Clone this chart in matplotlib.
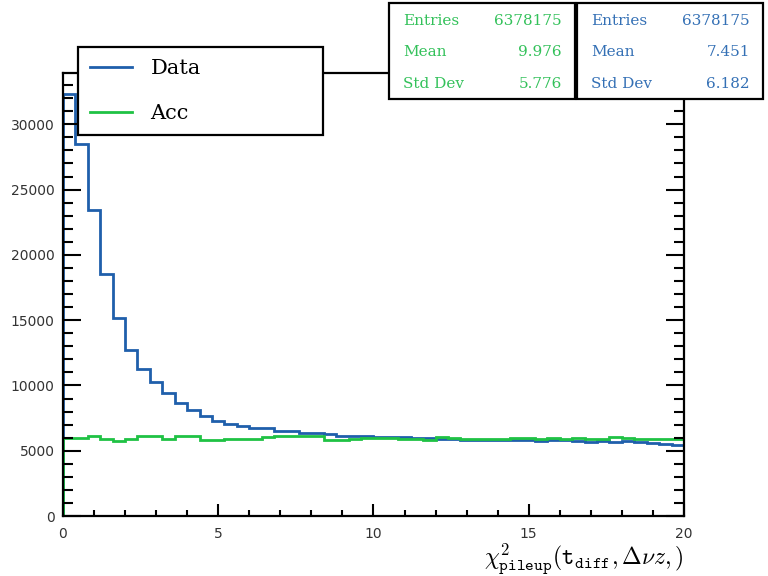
import numpy as np
import matplotlib
matplotlib.use('Agg')
from matplotlib import pyplot as plt
from matplotlib.patches import Rectangle
from matplotlib.ticker import MultipleLocator

# bin edges: 50 bins of 0.4 from 0 to 20
edges = np.linspace(0, 20, 51)

data_counts = [32300, 28500, 23450, 18500, 15130, 12750, 11300, 10230, 9440, 8650,
               8090, 7660, 7290, 7040, 6910, 6760, 6710, 6530, 6520, 6400,
               6390, 6250, 6150, 6140, 6100, 6060, 6050, 6030, 5990, 5950,
               5900, 5880, 5850, 5800, 5820, 5790, 5820, 5860, 5760, 5790,
               5820, 5760, 5710, 5750, 5660, 5720, 5700, 5560, 5520, 5460]

acc_counts = [6000, 6000, 6120, 5900, 5750, 5870, 6150, 6150, 5900, 6170,
              6150, 5830, 5830, 5900, 5940, 5900, 6070, 6100, 6100, 6100,
              6110, 5820, 5820, 5940, 5990, 5990, 5950, 5900, 5880, 5830,
              6050, 5950, 5920, 5880, 5900, 5930, 5960, 5970, 5930, 5960,
              5900, 5950, 5880, 5940, 6050, 5960, 5930, 5920, 5930, 5900]

stat_labels = ['Entries', 'Mean', 'Std Dev']
acc_stats = ['6378175', '9.976', '5.776']
data_stats = ['6378175', '7.451', '6.182']

DATA_COLOR = '#1f5fab'
ACC_COLOR = '#1fc244'
SERIF = 'DejaVu Serif'

plt.rcParams['mathtext.fontset'] = 'cm'

fig = plt.figure(figsize=(7.68, 5.76), dpi=100)
ax = fig.add_axes([0.082, 0.104, 0.8086, 0.769])

ax.stairs(data_counts, edges, baseline=0, color=DATA_COLOR, lw=2.0, label='Data')
ax.stairs(acc_counts, edges, baseline=0, color=ACC_COLOR, lw=2.0, label='Acc')

ax.set_xlim(0, 20)
ax.set_ylim(0, max(data_counts) * 1.05)

ax.xaxis.set_major_locator(MultipleLocator(5))
ax.xaxis.set_minor_locator(MultipleLocator(1))
ax.yaxis.set_major_locator(MultipleLocator(5000))
ax.yaxis.set_minor_locator(MultipleLocator(1000))

for s in ax.spines.values():
    s.set_linewidth(1.6)
ax.tick_params(axis='both', which='both', direction='in', width=1.5, labelsize=10)
ax.tick_params(axis='x', which='major', length=9, pad=8)
ax.tick_params(axis='x', which='minor', length=4.5)
ax.tick_params(axis='y', which='major', length=13, right=True, pad=6)
ax.tick_params(axis='y', which='minor', length=7, right=True)
for lab in ax.get_xticklabels() + ax.get_yticklabels():
    lab.set_color('#333333')

ax.set_xlabel(r'$\chi^{2}_{\mathtt{pileup}}(\mathtt{t}_{\mathtt{diff}},\Delta\nu z,)$',
              fontsize=17, loc='right', labelpad=0)

# legend box stretched over a fixed area of the figure
leg = ax.legend(loc='upper left', bbox_to_anchor=(0.1016, 0.7656, 0.3190, 0.1528),
                bbox_transform=fig.transFigure, mode='expand',
                prop={'family': SERIF, 'size': 15}, fancybox=False, handlelength=2.0,
                handletextpad=0.9, borderpad=0.58, labelspacing=1.25, borderaxespad=0)
leg.get_frame().set_edgecolor('black')
leg.get_frame().set_linewidth(1.6)
leg.get_frame().set_alpha(1)
leg.set_zorder(10)

# statistics boxes, Acc on the left, Data on the right
boxes = [(389, acc_stats, '#33c15a'), (577, data_stats, '#3470b5')]
W, H = 768.0, 576.0
for x0, vals, tcol in boxes:
    rect = Rectangle((x0 / W, 1 - 99 / H), 186 / W, 96 / H, transform=fig.transFigure,
                     facecolor='white', edgecolor='black', lw=1.6, zorder=20)
    fig.patches.append(rect)
    for i, (lab, val) in enumerate(zip(stat_labels, vals)):
        yy = 1 - (21 + 31.5 * i) / H
        fig.text((x0 + 14) / W, yy, lab, color=tcol, family=SERIF, fontsize=11,
                 va='center', ha='left', zorder=21)
        fig.text((x0 + 173) / W, yy, val, color=tcol, family=SERIF, fontsize=11,
                 va='center', ha='right', zorder=21)

fig.savefig('out.png', dpi=100)
